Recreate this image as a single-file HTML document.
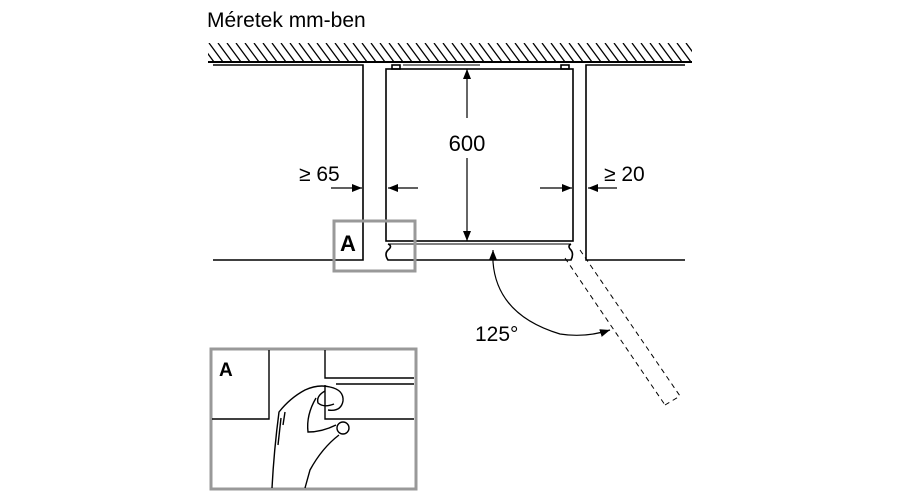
<!DOCTYPE html>
<html><head><meta charset="utf-8"><style>
html,body{margin:0;padding:0;background:#fff;}
svg{display:block;font-family:"Liberation Sans",sans-serif;}
</style></head><body>
<svg width="900" height="500" viewBox="0 0 900 500">
<defs>
<marker id="a" markerWidth="10" markerHeight="8" refX="10" refY="4" orient="auto" markerUnits="userSpaceOnUse"><path d="M0,0 L10,4 L0,8 Z" fill="#000"/></marker>
<clipPath id="c"><rect x="208" y="43" width="484" height="19"/></clipPath>
</defs>
<text x="207" y="27" font-size="21">Méretek mm-ben</text>
<g clip-path="url(#c)" stroke="#000" stroke-width="1.3">
<path id="hl" d="M200,43 l14,19 M209,43 l14,19 M218,43 l14,19 M227,43 l14,19 M236,43 l14,19 M245,43 l14,19 M254,43 l14,19 M263,43 l14,19 M272,43 l14,19 M281,43 l14,19 M290,43 l14,19 M299,43 l14,19 M308,43 l14,19 M317,43 l14,19 M326,43 l14,19 M335,43 l14,19 M344,43 l14,19 M353,43 l14,19 M362,43 l14,19 M371,43 l14,19 M380,43 l14,19 M389,43 l14,19 M398,43 l14,19 M407,43 l14,19 M416,43 l14,19 M425,43 l14,19 M434,43 l14,19 M443,43 l14,19 M452,43 l14,19 M461,43 l14,19 M470,43 l14,19 M479,43 l14,19 M488,43 l14,19 M497,43 l14,19 M506,43 l14,19 M515,43 l14,19 M524,43 l14,19 M533,43 l14,19 M542,43 l14,19 M551,43 l14,19 M560,43 l14,19 M569,43 l14,19 M578,43 l14,19 M587,43 l14,19 M596,43 l14,19 M605,43 l14,19 M614,43 l14,19 M623,43 l14,19 M632,43 l14,19 M641,43 l14,19 M650,43 l14,19 M659,43 l14,19 M668,43 l14,19 M677,43 l14,19 M686,43 l14,19"/>
</g>
<line x1="208" y1="62" x2="692" y2="62" stroke="#000" stroke-width="2"/>
<g stroke="#000" stroke-width="1.6" fill="none">
<polyline points="213,65 363,65 363,260 213,260"/>
<polyline points="685,65 586,65 586,260 685,260"/>
<rect x="386" y="69" width="187" height="172"/>
<rect x="392" y="65" width="8" height="4"/>
<rect x="561" y="65" width="8" height="4"/>
<line x1="403" y1="65" x2="480" y2="65" stroke-width="1"/>
<line x1="388" y1="244" x2="571" y2="244" stroke-width="1"/>
<path d="M388,244 Q393,246 388,250 Q384,254 388,260 L571,260 Q574,254 571,250 Q567,246 571,244"/>
</g>
<g stroke="#000" stroke-width="1.2" fill="none">
<line x1="467" y1="118" x2="467" y2="69" marker-end="url(#a)"/>
<line x1="467" y1="158" x2="467" y2="241" marker-end="url(#a)"/>
<line x1="331" y1="188" x2="362" y2="188" marker-end="url(#a)"/>
<line x1="418" y1="188" x2="388" y2="188" marker-end="url(#a)"/>
<line x1="540" y1="188" x2="572" y2="188" marker-end="url(#a)"/>
<line x1="617" y1="188" x2="588" y2="188" marker-end="url(#a)"/>
<line x1="493" y1="262" x2="493" y2="250" marker-end="url(#a)"/>
<path d="M493,262 Q497,315 560,334 Q585,338 610,330" marker-end="url(#a)"/>
</g>
<g stroke="#000" stroke-width="1" fill="none" stroke-dasharray="5,4">
<line x1="565" y1="258" x2="665" y2="405"/>
<line x1="580" y1="250" x2="680" y2="396"/>
<line x1="665" y1="405" x2="680" y2="396"/>
</g>
<text x="467" y="151" font-size="22" text-anchor="middle">600</text>
<text x="299" y="181" font-size="21">≥ 65</text>
<text x="604" y="181" font-size="21">≥ 20</text>
<text x="475" y="341" font-size="21">125°</text>
<rect x="334" y="221" width="81" height="50" fill="none" stroke="#999" stroke-width="3"/>
<text x="340" y="251" font-size="22" font-weight="bold">A</text>
<rect x="211" y="349" width="205" height="140" fill="none" stroke="#999" stroke-width="3"/>
<text x="219" y="376" font-size="19" font-weight="bold">A</text>
<g stroke="#000" stroke-width="1.4" fill="none">
<polyline points="269,350 269,419 212,419"/>
<polyline points="325,350 325,378 414,378"/>
<line x1="336" y1="384" x2="414" y2="384"/>
<polyline points="325,385 325,419 414,419"/>
<path d="M272,488 Q274,450 279,412 Q290,398 305,390 Q318,384 330,387 Q344,390 343,401 Q341,412 328,410"/>
<path d="M325,391 Q316,396 318,403 Q324,408 334,404"/>
<path d="M316,398 Q306,415 308,432 Q322,432 336,425"/>
<circle cx="343" cy="428" r="6"/>
<path d="M339,435 Q322,448 310,470 L305,488"/>
<path d="M281,418 L278,445"/>
<path d="M285,412 L283,425"/>
</g>
</svg>
</body></html>
